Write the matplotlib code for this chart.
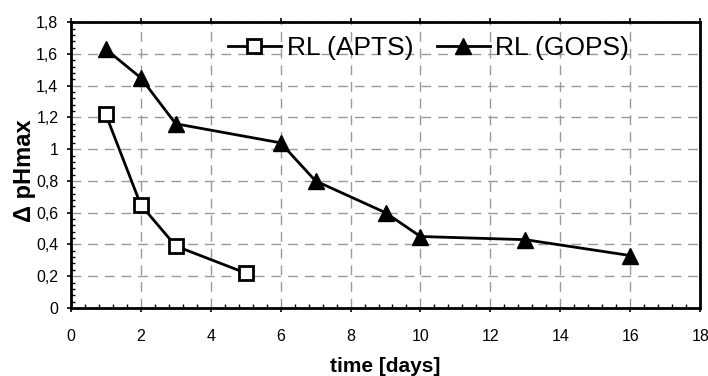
import matplotlib
matplotlib.use("Agg")
import matplotlib.pyplot as plt
from matplotlib.ticker import MultipleLocator, AutoMinorLocator, FuncFormatter

# data
days_apts = [1, 2, 3, 5]
dph_apts = [1.22, 0.65, 0.39, 0.22]
days_gops = [1, 2, 3, 6, 7, 9, 10, 13, 16]
dph_gops = [1.63, 1.45, 1.16, 1.04, 0.80, 0.60, 0.45, 0.43, 0.33]

plt.rcParams["font.family"] = ["Liberation Sans", "DejaVu Sans"]

fig = plt.figure(figsize=(7.08, 3.76), dpi=100, facecolor="white")
ax = fig.add_axes([0.100, 0.181, 0.889, 0.760])

ax.plot(days_apts, dph_apts, color="black", lw=2, marker="s", ms=10,
        mfc="white", mec="black", mew=2, label="RL (APTS)", zorder=3)
ax.plot(days_gops, dph_gops, color="black", lw=2, marker="^", ms=12,
        mfc="black", mec="black", label="RL (GOPS)", zorder=3)

ax.set_xlim(0, 18)
ax.set_ylim(0, 1.8)
ax.xaxis.set_major_locator(MultipleLocator(2))
ax.yaxis.set_major_locator(MultipleLocator(0.2))
ax.xaxis.set_minor_locator(AutoMinorLocator(5))
ax.yaxis.set_minor_locator(AutoMinorLocator(5))
ax.yaxis.set_major_formatter(FuncFormatter(
    lambda v, p: f"{v:.1f}".rstrip("0").rstrip(".").replace(".", ",")))

ax.grid(True, which="major", color="#999999", ls=(0, (7, 5)), lw=1)
for s in ax.spines.values():
    s.set_linewidth(2)
ax.tick_params(which="major", direction="out", length=3, width=1.2,
               labelsize=11.5, top=True, right=False)
ax.tick_params(axis="x", which="major", pad=12)
ax.tick_params(axis="y", which="major", pad=6)
ax.tick_params(which="minor", direction="in", length=3, width=1)

ax.set_xlabel("time [days]", fontsize=15, fontweight="bold")
ax.set_ylabel("Δ pHmax", fontsize=17, fontweight="bold")
ax.xaxis.set_label_coords(0.5, -0.17)
ax.yaxis.set_label_coords(-0.056, 0.48)

ax.legend(loc="center left", bbox_to_anchor=(228 / 708, 1 - 48 / 376),
          bbox_transform=fig.transFigure, ncol=2, frameon=False,
          fontsize=19, handlelength=2.0, handletextpad=0.22, columnspacing=0.9,
          borderpad=0, borderaxespad=0)

fig.savefig("out.png", dpi=100)
